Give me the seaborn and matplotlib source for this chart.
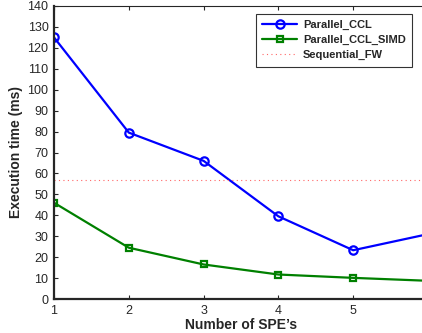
import numpy as np
import pandas as pd
import matplotlib
matplotlib.use("Agg")
import matplotlib.pyplot as plt
import seaborn as sns

# Data
spe = [1, 2, 3, 4, 5, 6]
parallel_ccl = [125, 79.5, 66, 39.5, 23.3, 31]
parallel_ccl_simd = [46, 24.5, 16.5, 11.7, 10.1, 8.7]
sequential_fw = 57
x_ticks = [1, 2, 3, 4, 5]

sns.set_style("ticks")
plt.rcParams["font.family"] = ["Liberation Sans", "DejaVu Sans"]

fig = plt.figure(figsize=(4.22, 3.33), dpi=100)
# axes runs slightly past the right edge of the figure, like the reference crop
ax = fig.add_axes([54 / 422, 34 / 333, 374 / 422, 293 / 333])

sns.lineplot(x=spe, y=parallel_ccl, ax=ax, color="#0000ff", lw=1.6,
             marker="o", markersize=6, markerfacecolor="none",
             markeredgecolor="#0000ff", markeredgewidth=1.6,
             label="Parallel_CCL")
sns.lineplot(x=spe, y=parallel_ccl_simd, ax=ax, color="#008000", lw=1.6,
             marker="s", markersize=5, markerfacecolor="none",
             markeredgecolor="#008000", markeredgewidth=1.6,
             label="Parallel_CCL_SIMD")
ax.axhline(sequential_fw, color="#ff6666", lw=0.8, ls=(0, (1, 3)),
           label="Sequential_FW")

ax.set_xlim(1, 6)
ax.set_ylim(0, 140)
ax.set_xticks(x_ticks)
ax.set_yticks(np.arange(0, 141, 10))
ax.tick_params(direction="in", top=True, right=True, labelsize=9,
               length=3, width=0.8, pad=4)
for side in ["left", "bottom"]:
    ax.spines[side].set_linewidth(1.6)
ax.spines["top"].set_linewidth(0.8)
ax.spines["right"].set_linewidth(0.8)

ax.set_xlabel("Number of SPE\u2019s", fontsize=10, fontweight="bold", labelpad=1)
ax.set_ylabel("Execution time (ms)", fontsize=10, fontweight="bold", labelpad=3)

leg = ax.legend(loc="upper right", bbox_to_anchor=(412 / 422, 1 - 14 / 333),
                bbox_transform=fig.transFigure, borderaxespad=0,
                frameon=True, fancybox=False, edgecolor="black",
                prop={"size": 8, "weight": "bold"}, handlelength=3.2,
                labelspacing=0.45, borderpad=0.55, handletextpad=0.5)
leg.get_frame().set_linewidth(0.8)

fig.savefig("out.png", dpi=100)
